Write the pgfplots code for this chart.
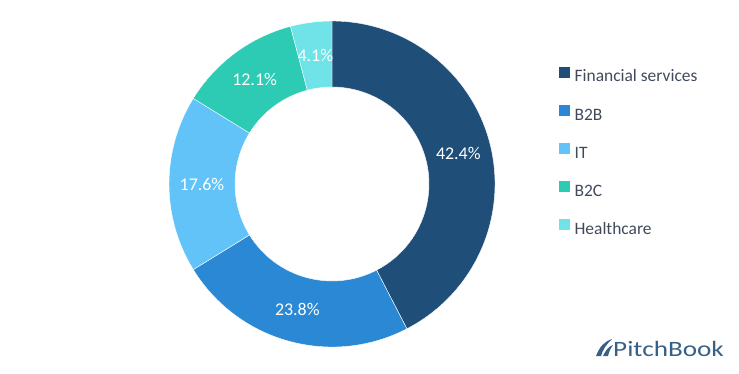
\documentclass[border=0pt]{standalone}
\usepackage{pgfplots}
\pgfplotsset{compat=1.18}
\usepackage{graphicx}
\usepackage{fontspec}
\setmainfont{Carlito}
\definecolor{cFin}{RGB}{31,78,121}
\definecolor{cBtwoB}{RGB}{42,136,212}
\definecolor{cIT}{RGB}{97,195,247}
\definecolor{cBtwoC}{RGB}{45,202,180}
\definecolor{cHC}{RGB}{112,227,232}
\definecolor{legtext}{RGB}{64,74,90}
\definecolor{logo}{RGB}{55,96,135}
\begin{document}
\begin{tikzpicture}
\begin{axis}[
  x=1bp, y=1bp, scale only axis,
  xmin=0, xmax=739, ymin=0, ymax=373,
  hide axis, clip=false,
  legend style={at={(axis cs:559,306.5)}, anchor=north west, draw=none, fill=none,
    inner sep=0pt, row sep=19.9bp, column sep=5bp,
    font=\fontsize{17.5}{18}\selectfont\color{legtext},
    nodes={inner sep=0pt, text height=12bp, text depth=3bp}},
  legend cell align=left,
]
\pgfplotsextra{
  \gdef\cum{0}
  \foreach \v/\c in {42.4/cFin,23.8/cBtwoB,17.6/cIT,12.1/cBtwoC,4.1/cHC} {
    \pgfmathsetmacro\aone{90-3.6*\cum}
    \pgfmathsetmacro\atwo{90-3.6*(\cum+\v)}
    \pgfmathsetmacro\amid{(\aone+\atwo)/2}
    \fill[\c, draw=white, line width=0.4bp] (axis cs:{332+163*cos(\aone)},{189+163*sin(\aone)})
      arc[start angle=\aone, end angle=\atwo, radius=163bp]
      -- (axis cs:{332+97*cos(\atwo)},{189+97*sin(\atwo)})
      arc[start angle=\atwo, end angle=\aone, radius=97bp] -- cycle;
    \node[white, font=\fontsize{18}{18}\selectfont] at (axis cs:{332+130*cos(\amid)},{189+130*sin(\amid)}) {\v\%};
    \pgfmathsetmacro\newcum{\cum+\v}
    \global\let\cum\newcum
  }
  % logo
  \fill[logo] (axis cs:596,17) .. controls (axis cs:600,27) and (axis cs:604,31) .. (axis cs:612,34)
     .. controls (axis cs:606,28) and (axis cs:603,24) .. (axis cs:601,17) -- cycle;
  \fill[logo] (axis cs:603,17) .. controls (axis cs:606,23) and (axis cs:608,26) .. (axis cs:613,28)
     .. controls (axis cs:610,24) and (axis cs:609,21) .. (axis cs:608,17) -- cycle;
  \node[logo, anchor=base west, inner sep=0pt, font=\fontsize{22}{22}\selectfont] at (axis cs:613,17)
     {\scalebox{1.24}[1]{PitchBook}};
}
\addlegendimage{legend image code/.code={\fill[cFin] (0bp,0.5bp) rectangle (10bp,10.5bp);}}
\addlegendentry{Financial services}
\addlegendimage{legend image code/.code={\fill[cBtwoB] (0bp,0.5bp) rectangle (10bp,10.5bp);}}
\addlegendentry{B2B}
\addlegendimage{legend image code/.code={\fill[cIT] (0bp,0.5bp) rectangle (10bp,10.5bp);}}
\addlegendentry{IT}
\addlegendimage{legend image code/.code={\fill[cBtwoC] (0bp,0.5bp) rectangle (10bp,10.5bp);}}
\addlegendentry{B2C}
\addlegendimage{legend image code/.code={\fill[cHC] (0bp,0.5bp) rectangle (10bp,10.5bp);}}
\addlegendentry{Healthcare}
\end{axis}
\pgfresetboundingbox
\path[use as bounding box] (current axis.south west) rectangle (current axis.north east);
\end{tikzpicture}
\end{document}
